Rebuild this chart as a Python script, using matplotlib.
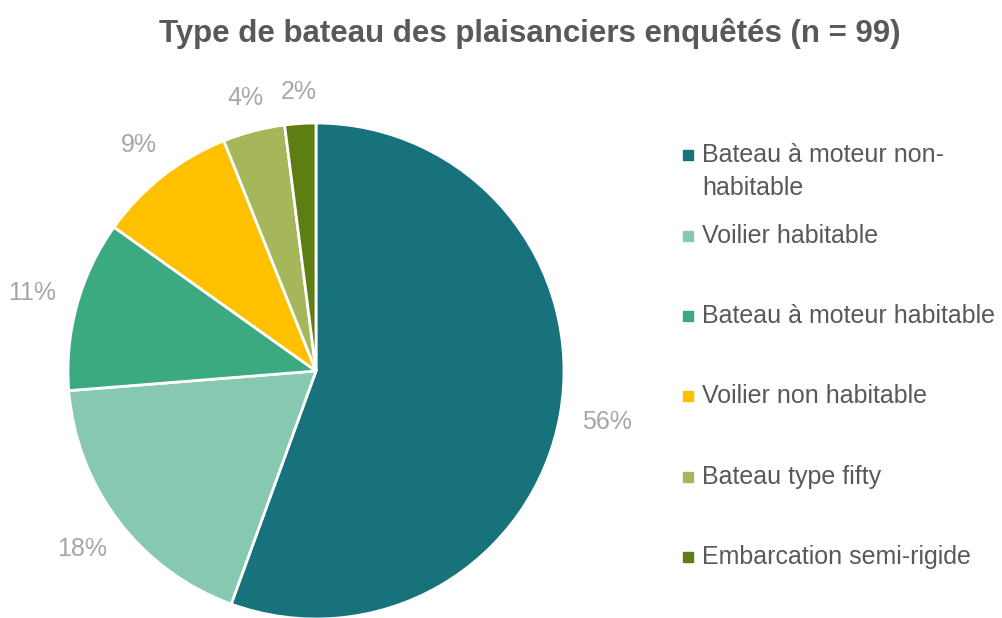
import numpy as np
import matplotlib.pyplot as plt
from matplotlib.patches import Rectangle

plt.rcParams['font.family'] = ['Liberation Sans', 'DejaVu Sans']

# data
categories = [["Bateau à moteur non-", "habitable"], ["Voilier habitable"],
              ["Bateau à moteur habitable"], ["Voilier non habitable"],
              ["Bateau type fifty"], ["Embarcation semi-rigide"]]
counts = [55, 18, 11, 9, 4, 2]
colors = ["#17727C", "#86C8B0", "#3BAA80", "#FFC000", "#A5B75A", "#5E7E14"]

W, H = 1003, 618
fig = plt.figure(figsize=(W / 100, H / 100), dpi=100)

# pie axes: center (316, 371) px, radius 248 px
cx, cy, r = 316, 371, 248
ax = fig.add_axes([(cx - r) / W, (H - cy - r) / H, 2 * r / W, 2 * r / H])
wedges, texts, autotexts = ax.pie(
    counts, colors=colors, startangle=90, counterclock=False,
    autopct=lambda p: f"{p:.0f}%", pctdistance=1.2,
    wedgeprops=dict(edgecolor="white", linewidth=2),
    textprops=dict(color="#A6A6A6", fontsize=18))
ax.set_xlim(-1, 1)
ax.set_ylim(-1, 1)
ax.set_aspect("equal")
ax.axis("off")

# put labels at a fixed gap outside the edge (like excel)
renderer = fig.canvas.get_renderer()
gap = 21
for w, t in zip(wedges, autotexts):
    t.set_clip_on(False)
    ang = np.deg2rad((w.theta1 + w.theta2) / 2)
    bb = t.get_window_extent(renderer)
    hw, hh = bb.width / 2, bb.height / 2 * 0.75
    d = (r + gap + abs(np.cos(ang)) * hw + abs(np.sin(ang)) * hh) / r
    t.set_position((d * np.cos(ang), d * np.sin(ang)))

fig.text(530 / W, 1 - 42 / H, "Type de bateau des plaisanciers enquêtés (n = 99)",
         ha="center", va="baseline", fontsize=22.5, fontweight="bold", color="#595959")

# legend
leg_y = [155, 236, 316, 396, 477, 557]
for lines, col, y in zip(categories, colors, leg_y):
    fig.patches.append(Rectangle((683 / W, 1 - (y + 5) / H), 10 / W, 10 / H,
                                 color=col, transform=fig.transFigure))
    for i, line in enumerate(lines):
        fig.text(702 / W, 1 - (y + 7 + 33 * i) / H, line, ha="left", va="baseline",
                 fontsize=18, color="#595959")

fig.savefig("out.png", dpi=100)
